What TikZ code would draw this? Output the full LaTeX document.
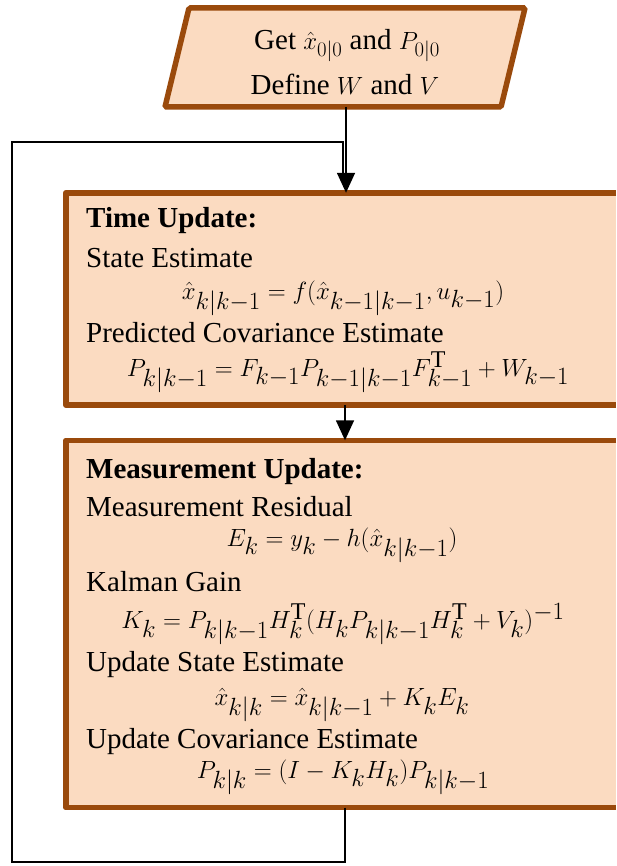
\documentclass[tikz,border=0pt]{standalone}
\usepackage{fontspec}
\setmainfont{Liberation Serif}
\usetikzlibrary{arrows.meta}
\DeclareMathSizes{31}{31}{24}{18}
\DeclareMathSizes{29}{29}{22}{16}
\definecolor{boxfill}{HTML}{FBDBC1}
\definecolor{boxdraw}{HTML}{9A4A0C}
\tikzset{
  procbox/.style={draw=boxdraw,fill=boxfill,line width=5.5pt,rounded corners=1.5pt,inner sep=0pt},
  fillbox/.style={fill=boxfill,draw=none,inner sep=0pt},
  border/.style={draw=boxdraw,line width=5.5pt,line join=round},
  txt/.style={anchor=west,inner sep=0pt,font=\fontsize{29}{33}\selectfont},
  eq/.style={anchor=center,inner sep=0pt,font=\fontsize{31}{35}\selectfont},
  conn/.style={line width=1.6pt,draw=black},
  arr/.style={conn,-{Triangle[length=20pt,width=18pt]}}
}
\begin{document}
\begin{tikzpicture}[x=1pt,y=-1pt]
\useasboundingbox (0,0) rectangle (616,866);
% parallelogram input
\draw[procbox] (189,8) -- (525,8) -- (501,107) -- (165,107) -- cycle;
\coordinate (initb) at (346,107);
\node[txt,anchor=center] (get) at (347,46) {Get $\hat{x}_{0|0}$ and $P_{0|0}$};
\node[txt,anchor=center] (def) at (345,84) {Define $W$ and $V$};
% time update box (runs off the right edge)
\node[fillbox,minimum width=550pt,minimum height=212pt] (tu) at (341,299) {};
\draw[border] (tu.north east) -- (tu.north west) -- (tu.south west) -- (tu.south east);
\node[txt,font=\fontsize{29}{33}\selectfont\bfseries] (tut) at (86,221) {Time Update:};
\node[txt] (se) at (86,258) {State Estimate};
\node[eq] (seq) at (343,298) {$\hat{x}_{k|k-1} = f\bigl(\hat{x}_{k-1|k-1}, u_{k-1}\bigr)$};
\node[txt] (pce) at (86,333) {Predicted Covariance Estimate};
\node[eq] (pceq) at (348,372) {$P_{k|k-1} = F_{k-1}P_{k-1|k-1}F_{k-1}^{\mathrm{T}} + W_{k-1}$};
% measurement update box (runs off the right edge)
\node[fillbox,minimum width=550pt,minimum height=367pt] (mu) at (341,624) {};
\draw[border] (mu.north east) -- (mu.north west) -- (mu.south west) -- (mu.south east);
\node[txt,font=\fontsize{29}{33}\selectfont\bfseries] (mut) at (86,472) {Measurement Update:};
\node[txt] (mr) at (86,507) {Measurement Residual};
\node[eq] (mreq) at (342,545) {$E_k = y_k - h\bigl(\hat{x}_{k|k-1}\bigr)$};
\node[txt] (kg) at (86,582) {Kalman Gain};
\node[eq] (kgeq) at (343,624) {$K_k = P_{k|k-1}H_k^{\mathrm{T}}\bigl(H_kP_{k|k-1}H_k^{\mathrm{T}} + V_k\bigr)^{-1}$};
\node[txt] (us) at (86,665) {Update State Estimate};
\node[eq] (useq) at (342,705) {$\hat{x}_{k|k} = \hat{x}_{k|k-1} + K_kE_k$};
\node[txt] (uc) at (86,742) {Update Covariance Estimate};
\node[eq] (uceq) at (343,777) {$P_{k|k} = (I - K_kH_k)P_{k|k-1}$};
% connectors
\coordinate (j) at (343,142);
\coordinate (c1) at (345,862);
\coordinate (c2) at (12,862);
\coordinate (c3) at (12,142);
\coordinate (jd) at (343,180);
\draw[arr] (initb) -- (tu.north -| initb);
\draw[conn] (mu.south -| c1) -- (c1) -- (c2) -- (c3) -- (j) -- (jd);
\draw[arr] (tu.south -| c1) -- (mu.north -| c1);
\end{tikzpicture}
\end{document}
